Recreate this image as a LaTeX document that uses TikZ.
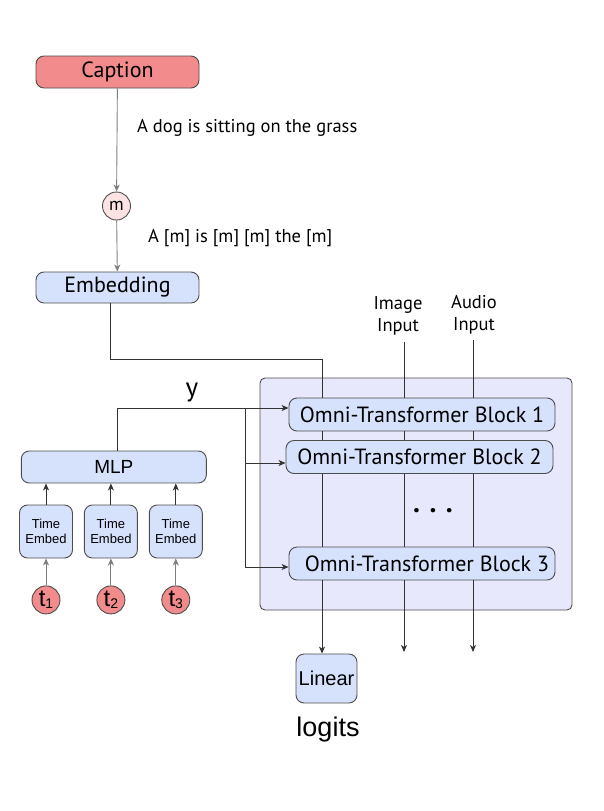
\documentclass[tikz,border=0pt]{standalone}
\usepackage{fontspec}
\setmainfont{PT Sans}
\newfontfamily\arialfont{Liberation Sans}
\usetikzlibrary{arrows.meta,positioning,calc}
\usepackage{xcolor}
\definecolor{ink}{HTML}{333333}
\definecolor{edge}{HTML}{4D4D4D}
\definecolor{ash}{HTML}{7F7F7F}
\definecolor{salmon}{HTML}{F28B8B}
\definecolor{blush}{HTML}{FDE3E3}
\definecolor{ice}{HTML}{D6E1FC}
\definecolor{lilac}{HTML}{E8E8FC}
\newcommand{\tsub}[1]{{\fontsize{14}{14}\selectfont\raisebox{-2pt}{#1}}}
\tikzset{
  base/.style={draw=edge,line width=0.9pt,rounded corners=8pt,inner sep=0pt},
  caption/.style={base,fill=salmon,minimum width=163pt,minimum height=32pt,font=\fontsize{22}{26}\selectfont},
  layer/.style={base,fill=ice,font=\fontsize{22}{26}\selectfont},
  block/.style={layer,minimum width=266pt,minimum height=33pt},
  timebox/.style={base,fill=ice,minimum width=53pt,minimum height=53pt,align=center,font=\arialfont\fontsize{13}{15}\selectfont},
  token/.style={circle,draw=edge,line width=0.9pt,inner sep=0pt,minimum size=28pt},
  panel/.style={draw=edge,line width=0.9pt,rounded corners=5pt,fill=lilac,minimum width=312pt,minimum height=232pt},
  note/.style={font=\fontsize{18.5}{22}\selectfont,align=center,inner sep=0pt},
  flow/.style={-{Stealth[length=7pt,width=6pt,inset=2pt]},line width=0.9pt,draw=ink},
  wire/.style={line width=0.9pt,draw=ink},
  soft/.style={flow,draw=ash}
}
\begin{document}
\begin{tikzpicture}[x=1pt,y=-1pt]
\useasboundingbox (0,0) rectangle (604,811);
\node[caption] (caption) at (117.5,72) {Caption};
\node[token,fill=blush,font=\fontsize{18}{20}\selectfont] (mask) at (116.5,206) {m};
\node[layer,minimum width=163pt,minimum height=31pt] (embedding) at (117.5,287.5) {Embedding};
\node[note,anchor=west] (sentence) at (137,128) {A dog is sitting on the grass};
\node[note,anchor=west] (masked) at (148,238) {A [m] is [m] [m] the [m]};

\node[panel] (panel) at (416,494) {};
\node[block] (blk1) at (422,414.5) {Omni-Transformer Block 1};
\node[block,minimum width=267pt] (blk2) at (419.5,457) {Omni-Transformer Block 2};
\node[block] (blk3) at (422,563.5) {\hspace{10pt}Omni-Transformer Block 3};
\node[font=\bfseries\fontsize{28}{28}\selectfont] (dots) at (433,511) {. . .};
\node[note] (image) at (398,316) {Image\\Input};
\node[note] (audio) at (474,315) {Audio\\Input};

\node[layer,minimum width=61pt,minimum height=49pt,font=\arialfont\fontsize{20}{24}\selectfont] (linear) at (326.5,678.5) {Linear};
\node[font=\arialfont\fontsize{27}{30}\selectfont] (logits) at (328,730) {logits};

\node[layer,minimum width=185pt,minimum height=32pt,font=\arialfont\fontsize{19}{22}\selectfont] (mlp) at (113.8,467) {MLP};
\node[timebox] (te1) at (46,531.5) {Time\\Embed};
\node[timebox,right=11pt of te1] (te2) {Time\\Embed};
\node[timebox,right=11pt of te2] (te3) {Time\\Embed};
\node[font=\fontsize{27}{27}\selectfont] (ylabel) at (192,393) {y};

\foreach \i in {1,2,3} {
  \node[token,fill=salmon,below=27pt of te\i,font=\arialfont\fontsize{24}{24}\selectfont] (t\i) {t\tsub{\i}};
  \draw[soft] (t\i) -- (te\i);
  \draw[flow] (te\i) -- (mlp.south -| te\i);
}

\draw[soft] (caption) -- (mask);
\draw[soft] (mask) -- (embedding);

\coordinate (c1) at (322,359);
\coordinate (c2) at (404,342);
\coordinate (c3) at (473,340);
\coordinate (o2) at (404,652);
\coordinate (o3) at (473,652);
\draw[wire] ([xshift=-7pt]embedding.south) |- (c1) -- (c1 |- blk1.north);
\draw[wire] (c2) -- (c2 |- blk1.north);
\draw[wire] (c3) -- (c3 |- blk1.north);
\foreach \c in {c1,c2,c3} {
  \draw[wire] (\c |- blk1.south) -- (\c |- blk2.north);
  \draw[wire] (\c |- blk2.south) -- (\c |- blk3.north);
}
\draw[flow] (c1 |- blk3.south) -- (c1 |- linear.north);
\draw[flow] (c2 |- blk3.south) -- (o2);
\draw[flow] (c3 |- blk3.south) -- (o3);

\coordinate (split) at (245,408);
\draw[flow] ([xshift=4pt]mlp.north) |- ([yshift=6.5pt]blk1.west);
\draw[flow] (split) |- ([yshift=-6pt]blk2.west);
\draw[flow] (split) |- ([yshift=-3.5pt]blk3.west);
\end{tikzpicture}
\end{document}
